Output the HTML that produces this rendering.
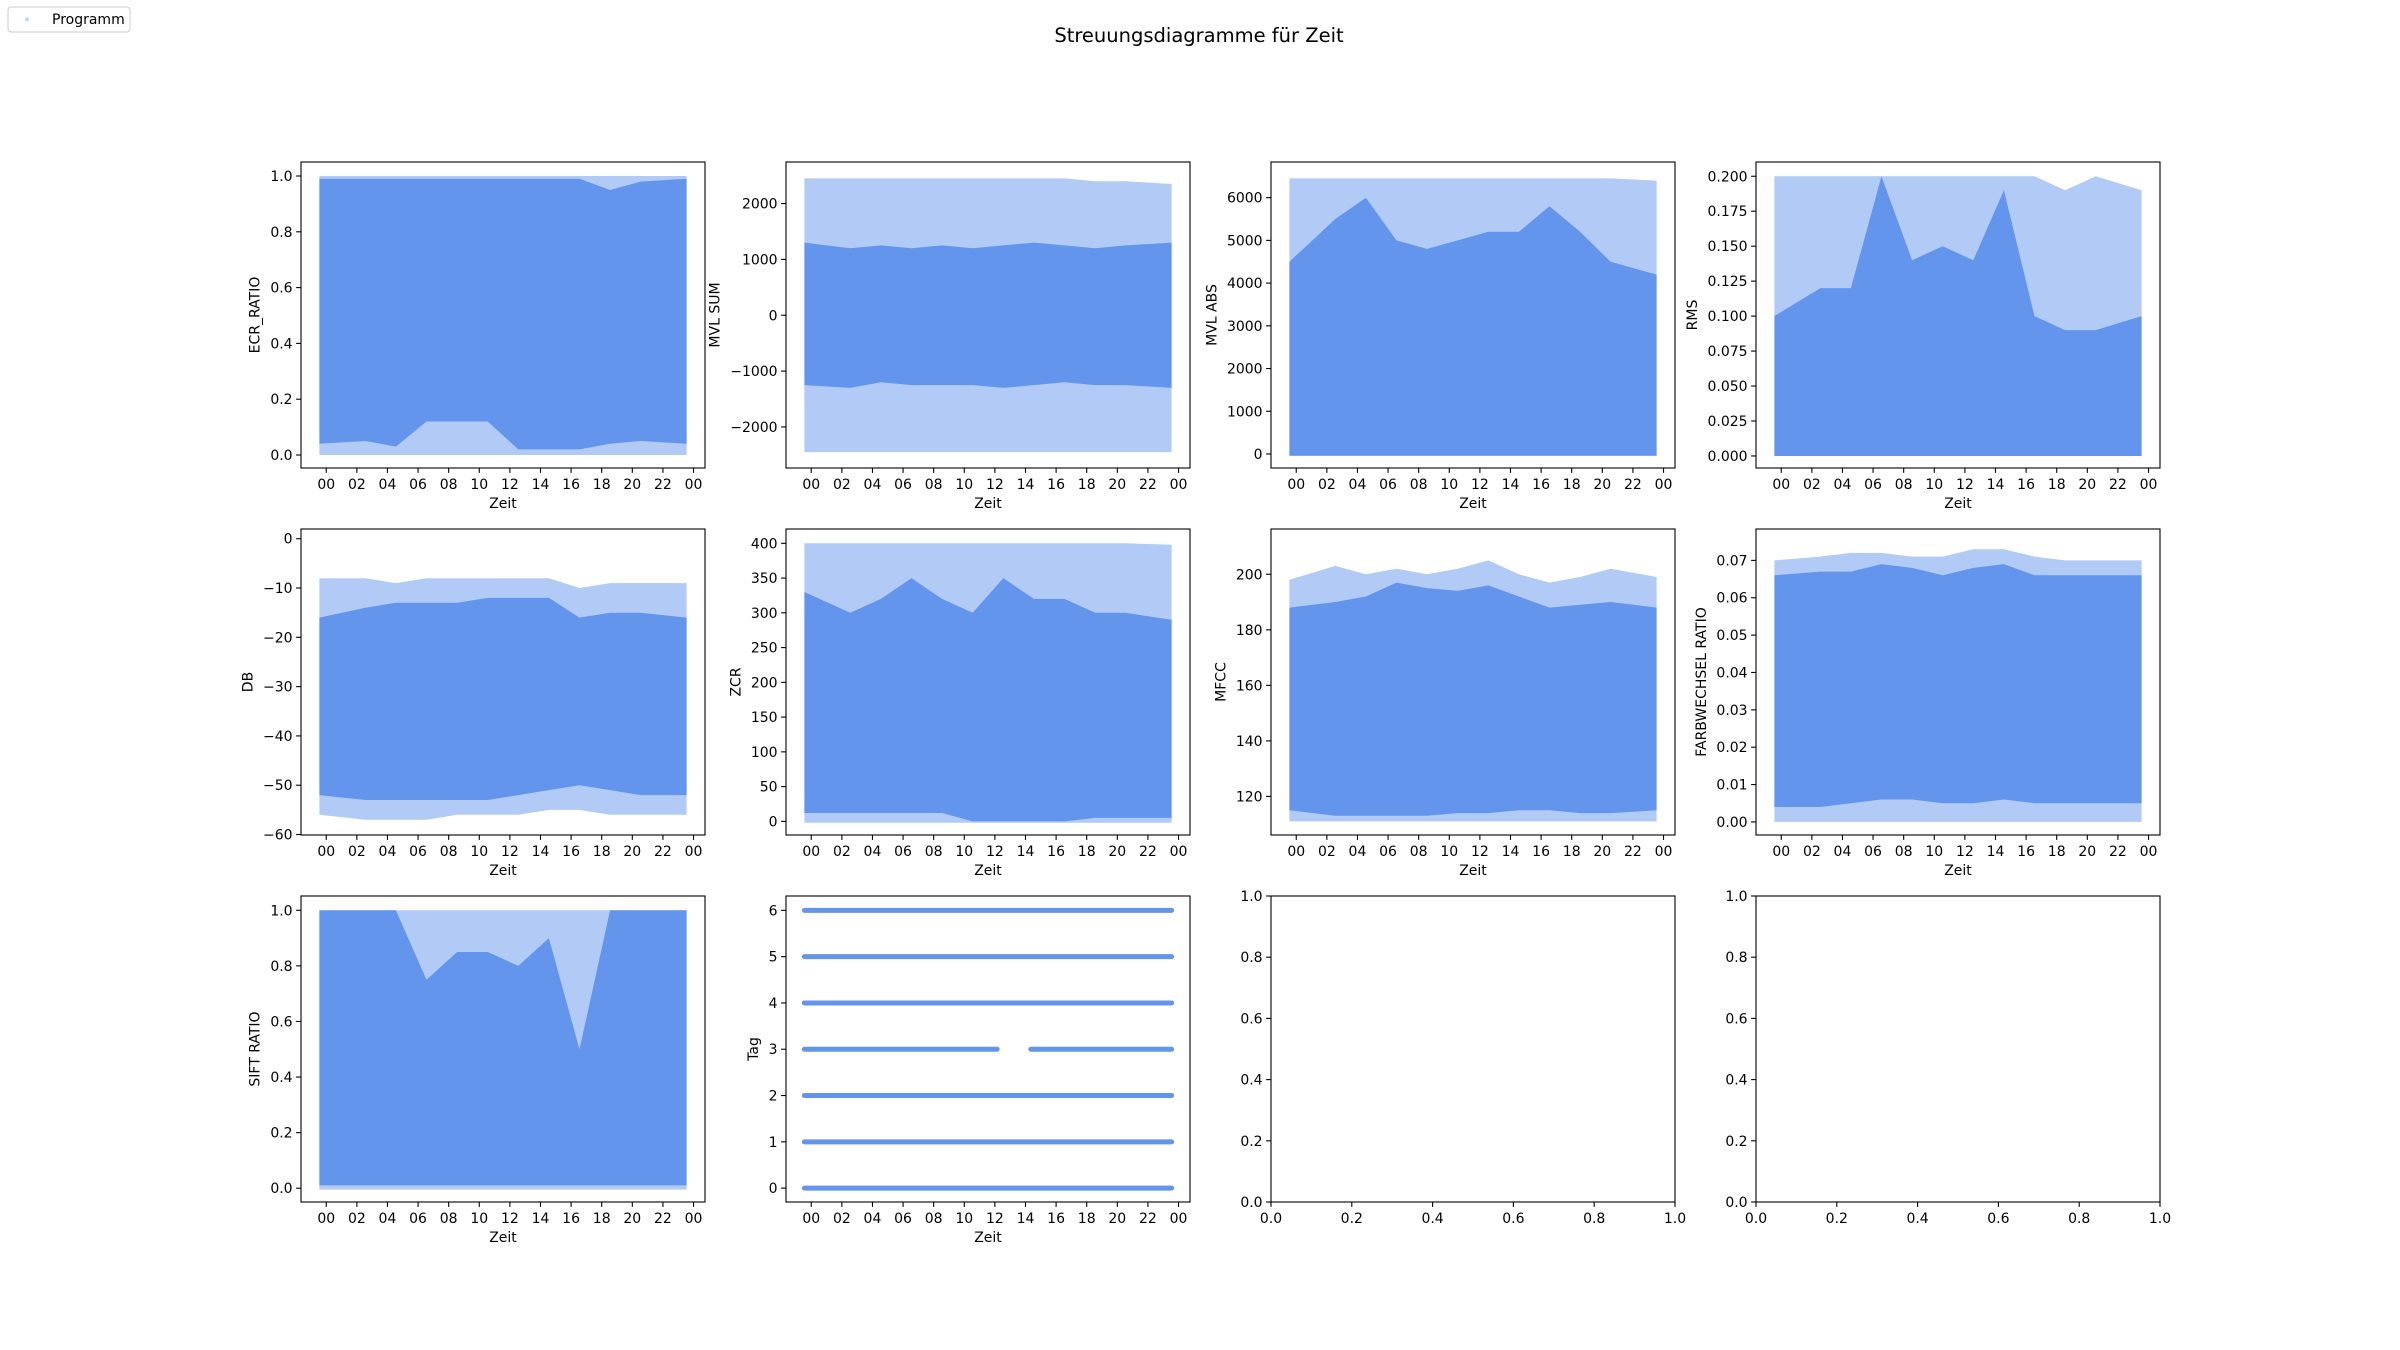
<!DOCTYPE html>
<html><head><meta charset="utf-8"><style>
html,body{margin:0;padding:0;background:#fff;}
svg{display:block;font-family:"DejaVu Sans","Liberation Sans",sans-serif;}
</style></head><body>
<svg id="fig" width="2400" height="1350" viewBox="0 0 2400 1350" xmlns="http://www.w3.org/2000/svg">
<rect width="2400" height="1350" fill="#fff"/>
<text x="1199" y="42" font-size="19.5" text-anchor="middle" fill="#000">Streuungsdiagramme für Zeit</text>
<g>
<rect x="8" y="7" width="122" height="25" rx="3" fill="#fff" stroke="#ccc"/>
<circle cx="27" cy="19.5" r="2" fill="#6495ED" opacity="0.4"/>
<text x="52" y="24" font-size="14" fill="#000">Programm</text>
</g>
</svg>
<script>
// ---- data (2-hour bins, bin label hour) ----
const hours = [0,2,4,6,8,10,12,14,16,18,20,22];
const xTickLabels = ["00","02","04","06","08","10","12","14","16","18","20","22","00"];
const tMin = -0.45, tMax = 23.55;

const ecrDenseHi = [0.99,0.99,0.99,0.99,0.99,0.99,0.99,0.99,0.99,0.95,0.98,0.99];
const ecrDenseLo = [0.04,0.05,0.03,0.12,0.12,0.12,0.02,0.02,0.02,0.04,0.05,0.04];
const ecrSparseHi = [1,1,1,1,1,1,1,1,1,1,1,1];
const ecrSparseLo = [0,0,0,0,0,0,0,0,0,0,0,0];

const sumDenseHi = [1300,1200,1250,1200,1250,1200,1250,1300,1250,1200,1250,1300];
const sumDenseLo = [-1250,-1300,-1200,-1250,-1250,-1250,-1300,-1250,-1200,-1250,-1250,-1300];
const sumSparseHi = [2450,2450,2450,2450,2450,2450,2450,2450,2450,2400,2400,2350];
const sumSparseLo = [-2450,-2450,-2450,-2450,-2450,-2450,-2450,-2450,-2450,-2450,-2450,-2450];

const absDenseHi = [4500,5500,6000,5000,4800,5000,5200,5200,5800,5200,4500,4200];
const absDenseLo = [-40,-40,-40,-40,-40,-40,-40,-40,-40,-40,-40,-40];
const absSparseHi = [6450,6450,6450,6450,6450,6450,6450,6450,6450,6450,6450,6400];
const absSparseLo = [-40,-40,-40,-40,-40,-40,-40,-40,-40,-40,-40,-40];

const rmsDenseHi = [0.10,0.12,0.12,0.20,0.14,0.15,0.14,0.19,0.10,0.09,0.09,0.10];
const rmsDenseLo = [0,0,0,0,0,0,0,0,0,0,0,0];
const rmsSparseHi = [0.20,0.20,0.20,0.20,0.20,0.20,0.20,0.20,0.20,0.19,0.20,0.19];
const rmsSparseLo = [0,0,0,0,0,0,0,0,0,0,0,0];

const dbDenseHi = [-16,-14,-13,-13,-13,-12,-12,-12,-16,-15,-15,-16];
const dbDenseLo = [-52,-53,-53,-53,-53,-53,-52,-51,-50,-51,-52,-52];
const dbSparseHi = [-8,-8,-9,-8,-8,-8,-8,-8,-10,-9,-9,-9];
const dbSparseLo = [-56,-57,-57,-57,-56,-56,-56,-55,-55,-56,-56,-56];

const zcrDenseHi = [330,300,320,350,320,300,350,320,320,300,300,290];
const zcrDenseLo = [12,12,12,12,12,0,0,0,0,5,5,5];
const zcrSparseHi = [400,400,400,400,400,400,400,400,400,400,400,398];
const zcrSparseLo = [-2,-2,-2,-2,-2,-2,-2,-2,-2,-2,-2,-2];

const mfccDenseHi = [188,190,192,197,195,194,196,192,188,189,190,188];
const mfccDenseLo = [115,113,113,113,113,114,114,115,115,114,114,115];
const mfccSparseHi = [198,203,200,202,200,202,205,200,197,199,202,199];
const mfccSparseLo = [111,111,111,111,111,111,111,111,111,111,111,111];

const farbDenseHi = [0.066,0.067,0.067,0.069,0.068,0.066,0.068,0.069,0.066,0.066,0.066,0.066];
const farbDenseLo = [0.004,0.004,0.005,0.006,0.006,0.005,0.005,0.006,0.005,0.005,0.005,0.005];
const farbSparseHi = [0.070,0.071,0.072,0.072,0.071,0.071,0.073,0.073,0.071,0.070,0.070,0.070];
const farbSparseLo = [0,0,0,0,0,0,0,0,0,0,0,0];

const siftDenseHi = [1,1,1,0.75,0.85,0.85,0.8,0.9,0.5,1,1,1];
const siftDenseLo = [0.01,0.01,0.01,0.01,0.01,0.01,0.01,0.01,0.01,0.01,0.01,0.01];
const siftSparseHi = [1,1,1,1,1,1,1,1,1,1,1,1];
const siftSparseLo = [-0.005,-0.005,-0.005,-0.005,-0.005,-0.005,-0.005,-0.005,-0.005,-0.005,-0.005,-0.005];

const tagDays = [0,1,2,3,4,5,6];
const tagSegStart = [[-0.45],[-0.45],[-0.45],[-0.45,14.35],[-0.45],[-0.45],[-0.45]];
const tagSegEnd = [[23.55],[23.55],[23.55],[12.15,23.55],[23.55],[23.55],[23.55]];

const NS = "http://www.w3.org/2000/svg";
const svg = document.getElementById('fig');
const COL = "#6495ED";
const colLeft = [301,786,1271,1756], rowTop = [162,529,896];
const AW = 404, AH = 306;

function mk(tag, attrs, parent){
  const e = document.createElementNS(NS, tag);
  for (const k in attrs) e.setAttribute(k, attrs[k]);
  (parent||svg).appendChild(e);
  return e;
}

function makeAxes(c, r, name, ylabel, ymin, ymax, yticks, yfmt, timeAxis){
  const L = colLeft[c], T = rowTop[r];
  const g = mk('g', {});
  
  
  const xmin = timeAxis ? tMin - 0.05*(tMax-tMin) : 0;
  const xmax = timeAxis ? tMax + 0.05*(tMax-tMin) : 1;
  const X = v => L + (v - xmin)/(xmax - xmin)*AW;
  const Y = v => T + AH - (v - ymin)/(ymax - ymin)*AH;
  const plot = mk('g', {}, g);
  
  
  const ax = {X, Y, g, plot, L, T, finish(){
    const fr = mk('rect', {x:L, y:T, width:AW, height:AH, fill:'none', stroke:'#000', 'stroke-width':1.1}, g);
    
    
    let maxW = 0;
    yticks.forEach(v => {
      const y = Y(v);
      mk('line', {x1:L-4.9, x2:L, y1:y, y2:y, stroke:'#000', 'stroke-width':1.1}, g);
      const t = mk('text', {x:L-8.4, y:y+5, 'font-size':14, 'text-anchor':'end', fill:'#000'}, g);
      t.textContent = yfmt(v);
      
      
      maxW = Math.max(maxW, t.getComputedTextLength());
    });
    const xt = timeAxis ? xTickLabels.map((s,i)=>[i*2, s]) : [0,0.2,0.4,0.6,0.8,1].map(v=>[v, v.toFixed(1)]);
    xt.forEach(([v,s]) => {
      const x = X(v);
      mk('line', {x1:x, x2:x, y1:T+AH, y2:T+AH+4.9, stroke:'#000', 'stroke-width':1.1}, g);
      const t = mk('text', {x:x, y:T+AH+21, 'font-size':14, 'text-anchor':'middle', fill:'#000'}, g);
      t.textContent = s;
      
      
    });
    if (timeAxis){
      const xl = mk('text', {x:L+AW/2, y:T+AH+40, 'font-size':14, 'text-anchor':'middle', fill:'#000'}, g);
      xl.textContent = 'Zeit';
      
      
    }
    if (ylabel){
      const lx = L - 8.4 - maxW - 5.6 - 5;
      const yl = mk('text', {x:lx, y:T+AH/2, 'font-size':14, 'text-anchor':'middle', fill:'#000', transform:`rotate(-90 ${lx} ${T+AH/2})`}, g);
      yl.textContent = ylabel;
      
      
    }
  }};
  return ax;
}

function bandPath(ax, hi, lo){
  const xs = hours.map(h => Math.min(tMax, Math.max(tMin, h + 0.55)));
  xs[0] = tMin; xs[xs.length-1] = tMax;
  let top = xs.map((x,i) => `${ax.X(x).toFixed(1)},${ax.Y(hi[i]).toFixed(1)}`);
  let bot = xs.map((x,i) => `${ax.X(x).toFixed(1)},${ax.Y(lo[i]).toFixed(1)}`).reverse();
  return 'M' + top.join(' L') + ' L' + bot.join(' L') + ' Z';
}

function drawBands(ax, sHi, sLo, dHi, dLo){
  const s = mk('path', {d:bandPath(ax, sHi, sLo), fill:COL, opacity:0.5}, ax.plot);
  
  
  const d = mk('path', {d:bandPath(ax, dHi, dLo), fill:COL}, ax.plot);
  
  
}

const f1 = v => v.toFixed(1), f3 = v => v.toFixed(3), f2 = v => v.toFixed(2);
const fint = v => (v<0?'\u2212':'') + Math.abs(v);

const specs = [
  [0,0,'ecr','ECR_RATIO',-0.0466,1.0502,[0,0.2,0.4,0.6,0.8,1.0],f1,[ecrSparseHi,ecrSparseLo,ecrDenseHi,ecrDenseLo]],
  [1,0,'mvl-sum','MVL SUM',-2735,2744,[-2000,-1000,0,1000,2000],fint,[sumSparseHi,sumSparseLo,sumDenseHi,sumDenseLo]],
  [2,0,'mvl-abs','MVL ABS',-328,6835,[0,1000,2000,3000,4000,5000,6000],fint,[absSparseHi,absSparseLo,absDenseHi,absDenseLo]],
  [3,0,'rms','RMS',-0.0086,0.2102,[0,0.025,0.05,0.075,0.1,0.125,0.15,0.175,0.2],f3,[rmsSparseHi,rmsSparseLo,rmsDenseHi,rmsDenseLo]],
  [0,1,'db','DB',-60.1,1.97,[-60,-50,-40,-30,-20,-10,0],fint,[dbSparseHi,dbSparseLo,dbDenseHi,dbDenseLo]],
  [1,1,'zcr','ZCR',-19.6,420.6,[0,50,100,150,200,250,300,350,400],fint,[zcrSparseHi,zcrSparseLo,zcrDenseHi,zcrDenseLo]],
  [2,1,'mfcc','MFCC',106.1,216.3,[120,140,160,180,200],fint,[mfccSparseHi,mfccSparseLo,mfccDenseHi,mfccDenseLo]],
  [3,1,'farbwechsel','FARBWECHSEL RATIO',-0.0035,0.0784,[0,0.01,0.02,0.03,0.04,0.05,0.06,0.07],f2,[farbSparseHi,farbSparseLo,farbDenseHi,farbDenseLo]],
  [0,2,'sift','SIFT RATIO',-0.0496,1.0514,[0,0.2,0.4,0.6,0.8,1.0],f1,[siftSparseHi,siftSparseLo,siftDenseHi,siftDenseLo]],
];
specs.forEach(s => {
  const ax = makeAxes(s[0], s[1], s[2], s[3], s[4], s[5], s[6], s[7], true);
  drawBands(ax, ...s[8]);
  ax.finish();
});

const tagAx = makeAxes(1, 2, 'tag', 'Tag', -0.3, 6.31, [0,1,2,3,4,5,6], v=>String(v), true);
tagDays.forEach((d,i) => {
  tagSegStart[i].forEach((s,j) => {
    const ln = mk('line', {x1:tagAx.X(s), x2:tagAx.X(tagSegEnd[i][j]), y1:tagAx.Y(d), y2:tagAx.Y(d), stroke:COL, 'stroke-width':5, 'stroke-linecap':'round'}, tagAx.plot);
    
    
  });
});
tagAx.finish();

const e1 = makeAxes(2, 2, 'empty-1', null, 0, 1, [0,0.2,0.4,0.6,0.8,1.0], f1, false); e1.finish();
const e2 = makeAxes(3, 2, 'empty-2', null, 0, 1, [0,0.2,0.4,0.6,0.8,1.0], f1, false); e2.finish();
</script>
</body></html>
